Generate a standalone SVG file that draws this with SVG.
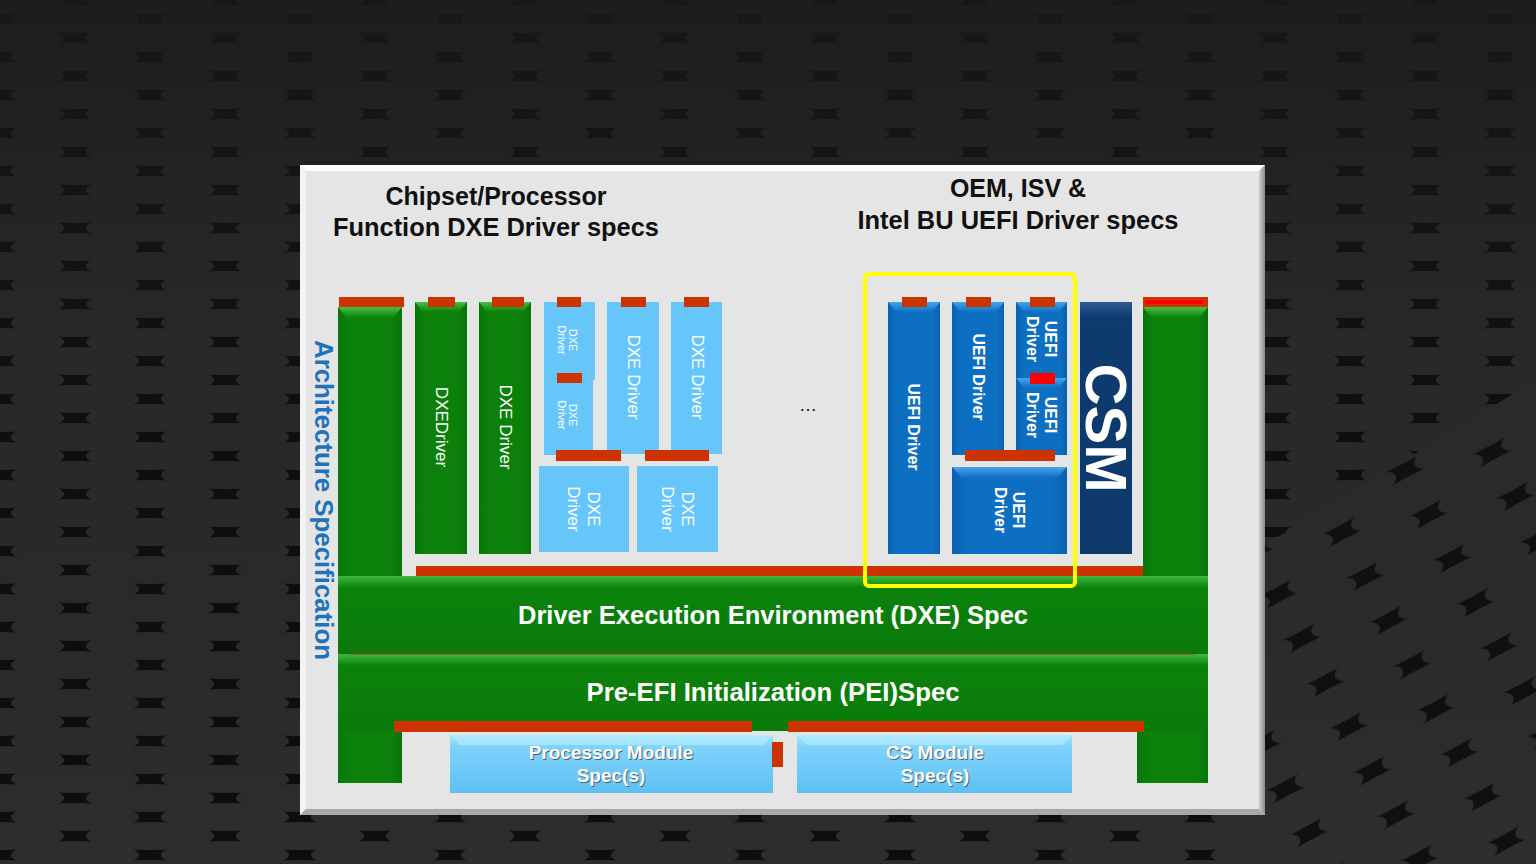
<svg xmlns="http://www.w3.org/2000/svg" width="1536" height="864" viewBox="0 0 1536 864">
<defs>
<pattern id="bgp" width="150" height="38" patternUnits="userSpaceOnUse">
<rect width="150" height="38" fill="#0e0e0e"/>
<ellipse cx="75" cy="19" rx="64" ry="14" fill="#2d2d2d"/>
<ellipse cx="0" cy="0" rx="64" ry="14" fill="#2d2d2d"/>
<ellipse cx="150" cy="0" rx="64" ry="14" fill="#2d2d2d"/>
<ellipse cx="0" cy="38" rx="64" ry="14" fill="#2d2d2d"/>
<ellipse cx="150" cy="38" rx="64" ry="14" fill="#2d2d2d"/>
</pattern>
<pattern id="bgp2" width="170" height="50" patternUnits="userSpaceOnUse" patternTransform="rotate(-28)">
<rect width="170" height="50" fill="#101010"/>
<ellipse cx="85" cy="25" rx="74" ry="18" fill="#2e2e2e"/>
<ellipse cx="0" cy="0" rx="74" ry="18" fill="#2e2e2e"/>
<ellipse cx="170" cy="0" rx="74" ry="18" fill="#2e2e2e"/>
<ellipse cx="0" cy="50" rx="74" ry="18" fill="#2e2e2e"/>
<ellipse cx="170" cy="50" rx="74" ry="18" fill="#2e2e2e"/>
</pattern>
<linearGradient id="dark" x1="0" y1="0" x2="0" y2="1">
<stop offset="0" stop-color="#1a1a1a" stop-opacity="0.85"/>
<stop offset="0.4" stop-color="#1a1a1a" stop-opacity="0.2"/>
<stop offset="1" stop-color="#000" stop-opacity="0"/>
</linearGradient>
<linearGradient id="gGreen" x1="0" y1="0" x2="1" y2="0">
<stop offset="0" stop-color="#0a740a"/>
<stop offset="0.15" stop-color="#0b800b"/>
<stop offset="0.85" stop-color="#0b800b"/>
<stop offset="1" stop-color="#0a740a"/>
</linearGradient>
<linearGradient id="gGreenTop" x1="0" y1="0" x2="0" y2="1">
<stop offset="0" stop-color="#45c045"/>
<stop offset="1" stop-color="#0b800b"/>
</linearGradient>
<linearGradient id="gBlue" x1="0" y1="0" x2="1" y2="0">
<stop offset="0" stop-color="#0a62b0"/>
<stop offset="0.15" stop-color="#0d6fc2"/>
<stop offset="0.85" stop-color="#0d6fc2"/>
<stop offset="1" stop-color="#0a62b0"/>
</linearGradient>
<linearGradient id="gBlueTop" x1="0" y1="0" x2="0" y2="1">
<stop offset="0" stop-color="#4aa3ea"/>
<stop offset="1" stop-color="#0d6fc2"/>
</linearGradient>
<linearGradient id="gNavy" x1="0" y1="0" x2="0" y2="1">
<stop offset="0" stop-color="#2a5c92"/>
<stop offset="0.06" stop-color="#0e3b6e"/>
<stop offset="1" stop-color="#0d396b"/>
</linearGradient>
<linearGradient id="gMod" x1="0" y1="0" x2="0" y2="1">
<stop offset="0" stop-color="#a6e6ff"/>
<stop offset="0.2" stop-color="#7fd3fb"/>
<stop offset="1" stop-color="#5ec0f2"/>
</linearGradient>
<linearGradient id="gBand" x1="0" y1="0" x2="0" y2="1">
<stop offset="0" stop-color="#3dba3d"/>
<stop offset="0.15" stop-color="#0b820b"/>
<stop offset="1" stop-color="#0a7a0a"/>
</linearGradient>
<linearGradient id="gRight" x1="0" y1="0" x2="1" y2="0">
<stop offset="0" stop-color="#d0d0d0"/>
<stop offset="1" stop-color="#8a8a8a"/>
</linearGradient>
<style>
.red{fill:#cc3300}
.bred{fill:#ff0000}
.grn{fill:url(#gGreen)}
.gtop{fill:url(#gGreenTop)}
.lb{fill:#66c6fa}
.ub{fill:url(#gBlue)}
.utop{fill:url(#gBlueTop)}
.t{font-family:"Liberation Sans",Arial,sans-serif}
.title{font-size:25px;font-weight:bold;fill:#111;text-anchor:middle}
.vt{text-anchor:middle;dominant-baseline:central;fill:#fff}
.band{font-size:25px;font-weight:bold;fill:#fff;text-anchor:middle}
.mod{font-size:19px;font-weight:bold;text-anchor:middle}
</style>
</defs>

<!-- background -->
<rect width="1536" height="864" fill="url(#bgp)"/>
<polygon points="1240,560 1536,380 1536,864 1240,864" fill="url(#bgp2)"/>
<rect width="1536" height="864" fill="url(#dark)"/>

<!-- panel -->
<g id="panel">
<rect x="300" y="165" width="965" height="650" fill="#e5e5e5"/>
<polygon points="300,165 1265,165 1259,171 306,171" fill="#ffffff"/>
<polygon points="300,165 306,171 306,809 300,815" fill="#f4f4f4"/>
<polygon points="1265,165 1265,815 1259,809 1259,171" fill="url(#gRight)"/>
<polygon points="300,815 1265,815 1259,809 306,809" fill="#a8a8a8"/>
</g>

<!-- titles -->
<g id="title-left" class="t">
<text class="title" x="496" y="205">Chipset/Processor</text>
<text class="title" x="496" y="236" textLength="326" lengthAdjust="spacingAndGlyphs">Function DXE Driver specs</text>
</g>
<g id="title-right" class="t">
<text class="title" x="1018" y="197">OEM, ISV &amp;</text>
<text class="title" x="1018" y="229" textLength="321" lengthAdjust="spacingAndGlyphs">Intel BU UEFI Driver specs</text>
</g>

<g id="arch-spec" class="t">
<text transform="translate(324,500) rotate(90)" class="vt" style="font-size:25px;font-weight:bold;fill:#1e73be" textLength="320" lengthAdjust="spacingAndGlyphs">Architecture Specification</text>
</g>

<!-- left architecture column -->
<g id="left-column">
<rect x="338" y="307" width="64" height="476" class="grn"/>
<polygon points="338,307 402,307 393,318 347,318" class="gtop"/>
<rect x="339" y="297" width="65" height="10" class="red"/>
</g>

<!-- right architecture column -->
<g id="right-column">
<rect x="1143" y="307" width="65" height="270" class="grn"/>
<polygon points="1143,307 1208,307 1199,318 1152,318" class="gtop"/>
<rect x="1143" y="297" width="65" height="10" class="red"/>
<rect x="1145" y="300" width="58" height="4" class="bred"/>
<rect x="1137" y="730" width="71" height="53" class="grn"/>
</g>

<!-- green DXE drivers -->
<g id="dxe-green-1" class="t">
<rect x="415" y="302" width="52" height="252" class="grn"/>
<polygon points="415,302 467,302 459,312 423,312" class="gtop"/>
<rect x="428" y="297" width="27" height="10" class="red"/>
<text transform="translate(441,427) rotate(90)" class="vt" style="font-size:17px">DXEDriver</text>
</g>
<g id="dxe-green-2" class="t">
<rect x="479" y="302" width="52" height="252" class="grn"/>
<polygon points="479,302 531,302 523,312 487,312" class="gtop"/>
<rect x="492" y="297" width="32" height="10" class="red"/>
<text transform="translate(505,427) rotate(90)" class="vt" style="font-size:17px">DXE Driver</text>
</g>

<!-- light blue DXE drivers -->
<g id="dxe-a" class="t">
<rect x="544" y="302" width="51" height="78" class="lb"/>
<rect x="557" y="297" width="24" height="10" class="red"/>
<text transform="translate(573,340) rotate(90)" class="vt" style="font-size:11px">DXE</text>
<text transform="translate(562,340) rotate(90)" class="vt" style="font-size:11px">Driver</text>
</g>
<g id="dxe-b" class="t">
<rect x="544" y="380" width="49" height="75" class="lb"/>
<rect x="557" y="373" width="25" height="10" class="red"/>
<text transform="translate(573,415) rotate(90)" class="vt" style="font-size:11px">DXE</text>
<text transform="translate(562,415) rotate(90)" class="vt" style="font-size:11px">Driver</text>
</g>
<g id="dxe-c" class="t">
<rect x="607" y="302" width="52" height="152" class="lb"/>
<rect x="621" y="297" width="25" height="10" class="red"/>
<text transform="translate(633,377) rotate(90)" class="vt" style="font-size:17px">DXE Driver</text>
</g>
<g id="dxe-d" class="t">
<rect x="671" y="302" width="51" height="152" class="lb"/>
<rect x="684" y="297" width="25" height="10" class="red"/>
<text transform="translate(697,377) rotate(90)" class="vt" style="font-size:17px">DXE Driver</text>
</g>
<g id="dxe-e" class="t">
<rect x="539" y="466" width="90" height="86" class="lb"/>
<rect x="556" y="450" width="65" height="11" class="red"/>
<text transform="translate(593,509) rotate(90)" class="vt" style="font-size:17px">DXE</text>
<text transform="translate(573,509) rotate(90)" class="vt" style="font-size:17px">Driver</text>
</g>
<g id="dxe-f" class="t">
<rect x="637" y="466" width="81" height="86" class="lb"/>
<rect x="645" y="450" width="64" height="11" class="red"/>
<text transform="translate(687,509) rotate(90)" class="vt" style="font-size:17px">DXE</text>
<text transform="translate(667,509) rotate(90)" class="vt" style="font-size:17px">Driver</text>
</g>

<g id="ellipsis" class="t">
<text x="808" y="411" style="font-size:18px;fill:#111" text-anchor="middle">…</text>
</g>

<!-- UEFI drivers -->
<g id="uefi-1" class="t">
<rect x="888" y="302" width="52" height="252" class="ub"/>
<polygon points="888,302 940,302 932,312 896,312" class="utop"/>
<rect x="902" y="297" width="25" height="10" class="red"/>
<text transform="translate(913,427) rotate(90)" class="vt" style="font-size:16px;font-weight:bold">UEFI Driver</text>
</g>
<g id="uefi-2" class="t">
<rect x="952" y="302" width="52" height="153" class="ub"/>
<polygon points="952,302 1004,302 996,312 960,312" class="utop"/>
<rect x="966" y="297" width="25" height="10" class="red"/>
<text transform="translate(978,377) rotate(90)" class="vt" style="font-size:16px;font-weight:bold">UEFI Driver</text>
</g>
<g id="uefi-3" class="t">
<rect x="1016" y="302" width="51" height="78" class="ub"/>
<polygon points="1016,302 1067,302 1059,312 1024,312" class="utop"/>
<rect x="1030" y="297" width="25" height="10" class="red"/>
<text transform="translate(1050,339) rotate(90)" class="vt" style="font-size:16px;font-weight:bold">UEFI</text>
<text transform="translate(1032,339) rotate(90)" class="vt" style="font-size:16px;font-weight:bold">Driver</text>
</g>
<g id="uefi-4" class="t">
<rect x="1016" y="378" width="51" height="77" class="ub"/>
<polygon points="1016,378 1067,378 1059,388 1024,388" class="utop"/>
<rect x="1030" y="373" width="25" height="11" class="bred"/>
<text transform="translate(1050,415) rotate(90)" class="vt" style="font-size:16px;font-weight:bold">UEFI</text>
<text transform="translate(1032,415) rotate(90)" class="vt" style="font-size:16px;font-weight:bold">Driver</text>
</g>
<g id="uefi-5" class="t">
<rect x="952" y="467" width="115" height="87" class="ub"/>
<polygon points="952,467 1067,467 1057,478 962,478" class="utop"/>
<rect x="965" y="450" width="90" height="11" class="red"/>
<text transform="translate(1018,510) rotate(90)" class="vt" style="font-size:16px;font-weight:bold">UEFI</text>
<text transform="translate(1000,510) rotate(90)" class="vt" style="font-size:16px;font-weight:bold">Driver</text>
</g>

<g id="csm" class="t">
<rect x="1080" y="302" width="52" height="252" fill="url(#gNavy)"/>
<text transform="translate(1106,428) rotate(90)" class="vt" style="font-size:58px;font-weight:bold">CSM</text>
</g>

<!-- DXE band -->
<g id="dxe-spec" class="t">
<rect x="416" y="566" width="727" height="10" class="red"/>
<rect x="338" y="576" width="870" height="78" fill="url(#gBand)"/>
<text class="band" x="773" y="624" textLength="510" lengthAdjust="spacingAndGlyphs">Driver Execution Environment (DXE) Spec</text>
</g>

<!-- PEI band -->
<g id="pei-spec" class="t">
<rect x="338" y="654" width="870" height="77" fill="url(#gBand)"/>
<rect x="350" y="653" width="845" height="1.5" fill="#7a4a10"/>
<rect x="394" y="721" width="358" height="11" class="red"/>
<rect x="788" y="721" width="356" height="11" class="red"/>
<text class="band" x="773" y="701" textLength="373" lengthAdjust="spacingAndGlyphs">Pre-EFI Initialization (PEI)Spec</text>
</g>

<!-- yellow highlight -->
<g id="highlight">
<rect x="865" y="274" width="210" height="312" rx="4" fill="none" stroke="#ffff00" stroke-width="4"/>
</g>

<!-- modules -->
<g id="processor-module" class="t">
<rect x="450" y="735" width="323" height="58" fill="url(#gMod)"/>
<polygon points="450,735 773,735 763,745 460,745" fill="#b8ecff" opacity="0.6"/>
<rect x="772" y="742" width="11" height="25" class="red"/>
<text class="mod" x="612" y="760" fill="#4a6070">Processor Module</text>
<text class="mod" x="612" y="783" fill="#4a6070">Spec(s)</text>
<text class="mod" x="611" y="759" fill="#ffffff">Processor Module</text>
<text class="mod" x="611" y="782" fill="#ffffff">Spec(s)</text>
</g>
<g id="cs-module" class="t">
<rect x="797" y="735" width="275" height="58" fill="url(#gMod)"/>
<polygon points="797,735 1072,735 1062,745 807,745" fill="#b8ecff" opacity="0.6"/>
<text class="mod" x="936" y="760" fill="#4a6070">CS Module</text>
<text class="mod" x="936" y="783" fill="#4a6070">Spec(s)</text>
<text class="mod" x="935" y="759" fill="#ffffff">CS Module</text>
<text class="mod" x="935" y="782" fill="#ffffff">Spec(s)</text>
</g>

<g id="connectors"></g>
</svg>
